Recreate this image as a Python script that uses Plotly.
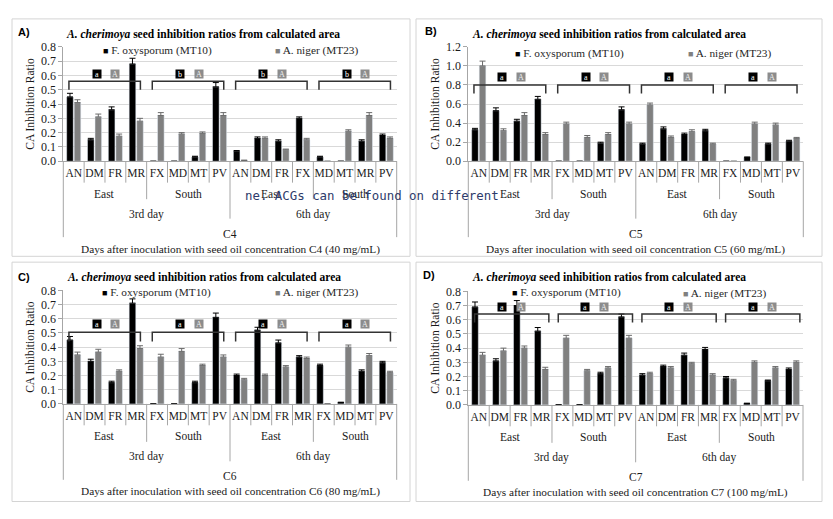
import plotly.graph_objects as go

W, H = 833, 519

# ---------------- data ----------------
iso_A = ["AN", "DM", "FR", "MR", "FX", "MD", "MT", "PV",
         "AN", "DM", "FR", "FX", "MD", "MT", "MR", "PV"]
iso_std = ["AN", "DM", "FR", "MR", "FX", "MD", "MT", "PV",
           "AN", "DM", "FR", "MR", "FX", "MD", "MT", "PV"]
region_labels = ["East", "South", "East", "South"]
day_labels = ["3rd day", "6th day"]
conc_labels = ["C4", "C5", "C6", "C7"]
conc_values = ["40 mg/mL", "60 mg/mL", "80 mg/mL", "100 mg/mL"]
series_names = ["F. oxysporum (MT10)", "A. niger (MT23)"]

A_fox = [0.45, 0.15, 0.36, 0.68, 0, 0, 0.03, 0.52, 0.07, 0.16, 0.14, 0.30, 0.03, 0, 0.14, 0.18]
A_ani = [0.41, 0.31, 0.175, 0.28, 0.32, 0.19, 0.195, 0.32, 0.005, 0.16, 0.08, 0.15, 0, 0.21, 0.32, 0.16]
B_fox = [0.33, 0.53, 0.42, 0.65, 0, 0, 0.19, 0.54, 0.18, 0.34, 0.28, 0.32, 0, 0.04, 0.18, 0.21]
B_ani = [1.00, 0.32, 0.48, 0.28, 0.39, 0.25, 0.28, 0.39, 0.59, 0.25, 0.31, 0.18, 0, 0.39, 0.38, 0.24]
C_fox = [0.45, 0.30, 0.15, 0.71, 0, 0, 0.15, 0.61, 0.20, 0.52, 0.43, 0.33, 0.27, 0.01, 0.23, 0.29]
C_ani = [0.345, 0.365, 0.23, 0.39, 0.33, 0.37, 0.27, 0.33, 0.17, 0.20, 0.26, 0.32, 0, 0.40, 0.34, 0.22]
D_fox = [0.69, 0.31, 0.70, 0.52, 0, 0, 0.22, 0.62, 0.21, 0.27, 0.35, 0.39, 0.19, 0.01, 0.17, 0.25]
D_ani = [0.35, 0.38, 0.40, 0.25, 0.47, 0.24, 0.26, 0.47, 0.22, 0.26, 0.29, 0.21, 0.17, 0.30, 0.26, 0.30]

A_fox_err = [0.025, 0.01, 0.02, 0.04, 0, 0, 0.005, 0.03, 0.005, 0.01, 0.01, 0.01, 0.005, 0, 0.01, 0.01]
A_ani_err = [0.02, 0.02, 0.015, 0.02, 0.02, 0.01, 0.01, 0.02, 0.003, 0.01, 0.005, 0.01, 0, 0.01, 0.02, 0.01]
B_fox_err = [0.015, 0.03, 0.02, 0.03, 0, 0, 0.01, 0.03, 0.01, 0.02, 0.015, 0.015, 0, 0.005, 0.01, 0.01]
B_ani_err = [0.05, 0.02, 0.03, 0.02, 0.02, 0.02, 0.02, 0.02, 0.02, 0.015, 0.02, 0.01, 0, 0.02, 0.02, 0.01]
C_fox_err = [0.025, 0.015, 0.01, 0.03, 0, 0, 0.01, 0.03, 0.01, 0.02, 0.02, 0.01, 0.01, 0.002, 0.01, 0.01]
C_ani_err = [0.02, 0.02, 0.01, 0.02, 0.02, 0.02, 0.01, 0.015, 0.01, 0.01, 0.01, 0.01, 0, 0.015, 0.015, 0.01]
D_fox_err = [0.035, 0.015, 0.035, 0.025, 0, 0, 0.01, 0.02, 0.01, 0.01, 0.015, 0.015, 0.01, 0.002, 0.005, 0.01]
D_ani_err = [0.02, 0.02, 0.015, 0.015, 0.02, 0.01, 0.01, 0.02, 0.01, 0.01, 0.01, 0.01, 0.01, 0.01, 0.01, 0.01]

A_letters = [("a", "A"), ("b", "A"), ("b", "A"), ("b", "A")]
B_letters = [("a", "A"), ("a", "A"), ("a", "A"), ("a", "A")]
C_letters = [("a", "A"), ("a", "A"), ("a", "A"), ("a", "A")]
D_letters = [("a", "A"), ("a", "A"), ("a", "A"), ("a", "A")]

# bracket levels: (top, tick end, letter level)
A_bracket = (0.56, 0.50, 0.61)
B_bracket = (0.80, 0.71, 0.885)
C_bracket = (0.505, 0.44, 0.56)
D_bracket = (0.64, 0.58, 0.69)

stray_text = "ne. ACGs can be found on different"

# ---------------- layout config (pixels in the reference picture) ----------------
panels = [
    dict(tag="A)", iso=iso_A, fox=A_fox, ani=A_ani, fe=A_fox_err, ae=A_ani_err, letters=A_letters,
         br=A_bracket, ymax=0.8, dtick=0.1, x0=63.3, x1=396.7, yt=40.7, yb=158.3,
         box=(12, 12, 410, 256), tagpos=(16, 25), title=(203, 28.3),
         leg1=(101, 44), leg2=(273, 44.5), bx=(-0.23, 3.2)),
    dict(tag="B)", iso=iso_std, fox=B_fox, ani=B_ani, fe=B_fox_err, ae=B_ani_err, letters=B_letters,
         br=B_bracket, ymax=1.2, dtick=0.2, x0=468.3, x1=803.3, yt=40.7, yb=158.3,
         box=(416, 12, 822, 256), tagpos=(423, 24), title=(609, 28.3),
         leg1=(513, 48), leg2=(686, 48), bx=(-0.23, 3.2)),
    dict(tag="C)", iso=iso_std, fox=C_fox, ani=C_ani, fe=C_fox_err, ae=C_ani_err, letters=C_letters,
         br=C_bracket, ymax=0.8, dtick=0.1, x0=63.3, x1=396.7, yt=291, yb=407.7,
         box=(12, 262, 410, 508), tagpos=(16, 277), title=(204, 277.7),
         leg1=(100, 293.7), leg2=(273, 293.7), bx=(-0.23, 3.2)),
    dict(tag="D)", iso=iso_std, fox=D_fox, ani=D_ani, fe=D_fox_err, ae=D_ani_err, letters=D_letters,
         br=D_bracket, ymax=0.8, dtick=0.1, x0=468.3, x1=803.0, yt=292, yb=408.7,
         box=(416, 262, 822, 508), tagpos=(421, 275), title=(609, 277.7),
         leg1=(510, 293.7), leg2=(681, 294), bx=(-0.2, 3.35)),
]

SERIF = "Liberation Serif"
TXT = "#1a1a1a"
LINE = "#a6a6a6"
BLACK = "#000000"
GRAY = "#808080"
PAGE_OFF = 8  # default page margin around the plot div


def px(x):
    return (x - PAGE_OFF) / W


def py(y):
    return 1 - (y - PAGE_OFF) / H


fig = go.Figure()
annotations = []
shapes = []
layout_axes = {}

for i, p in enumerate(panels):
    n = i + 1
    xa = "x" if n == 1 else f"x{n}"
    ya = "y" if n == 1 else f"y{n}"
    xkey = "xaxis" if n == 1 else f"xaxis{n}"
    ykey = "yaxis" if n == 1 else f"yaxis{n}"
    xs = list(range(len(p["iso"])))

    fig.add_trace(go.Bar(
        x=xs, y=p["fox"], name=series_names[0], marker_color=BLACK, xaxis=xa, yaxis=ya,
        error_y=dict(type="data", symmetric=False,
                     array=[e if e > 0 else None for e in p["fe"]],
                     arrayminus=[0] * len(xs), color="#000000", thickness=1, width=3),
        showlegend=False))
    fig.add_trace(go.Bar(
        x=xs, y=p["ani"], name=series_names[1], marker_color=GRAY, xaxis=xa, yaxis=ya,
        error_y=dict(type="data", symmetric=False,
                     array=[e if e > 0 else None for e in p["ae"]],
                     arrayminus=[0] * len(xs), color="#6a6a6a", thickness=1, width=3),
        showlegend=False))

    hpx = p["yb"] - p["yt"]
    layout_axes[xkey] = dict(
        domain=[px(p["x0"]), px(p["x1"])], anchor=ya, range=[-0.5, len(xs) - 0.5],
        tickvals=xs, ticktext=p["iso"], ticks="", showline=True, linecolor=LINE,
        showgrid=False, zeroline=False, tickfont=dict(family=SERIF, size=11.5, color=TXT),
        ticklabelstandoff=1, fixedrange=True)
    layout_axes[ykey] = dict(
        domain=[py(p["yb"]), py(p["yt"])], anchor=xa, range=[0, p["ymax"]],
        dtick=p["dtick"], tickformat=".1f", showline=True, linecolor=LINE,
        ticks="outside", ticklen=4, tickcolor=LINE, showgrid=True, gridcolor="#d9d9d9",
        zeroline=False, tickfont=dict(family=SERIF, size=12, color=TXT), fixedrange=True,
        title=dict(text="CA Inhibition Ratio", font=dict(family=SERIF, size=11.5, color=TXT),
                   standoff=3))

    # panel border
    bx0, by0, bx1, by1 = p["box"]
    shapes.append(dict(type="rect", xref="paper", yref="paper", x0=px(bx0), x1=px(bx1),
                       y0=py(by1), y1=py(by0), line=dict(color="#d4d4d4", width=1)))

    # panel tag and title
    annotations.append(dict(xref="paper", yref="paper", x=px(p["tagpos"][0]), y=py(p["tagpos"][1]),
                            xanchor="left", yanchor="middle", showarrow=False,
                            text=f"<b>{p['tag']}</b>",
                            font=dict(family="Liberation Sans", size=11, color="#000")))
    annotations.append(dict(xref="paper", yref="paper", x=px(p["title"][0]), y=py(p["title"][1]),
                            xanchor="center", yanchor="middle", showarrow=False,
                            text="<b><i>A. cherimoya</i> seed inhibition ratios from calculated area</b>",
                            font=dict(family=SERIF, size=11.5, color="#000")))
    # legend entries
    for (lx, ly), nm, col in [(p["leg1"], series_names[0], BLACK), (p["leg2"], series_names[1], GRAY)]:
        annotations.append(dict(xref="paper", yref="paper", x=px(lx), y=py(ly),
                                xanchor="left", yanchor="middle", showarrow=False,
                                text=f'<span style="color:{col};font-size:9px">■</span> {nm}',
                                font=dict(family=SERIF, size=11.3, color="#262626")))

    # brackets + letters
    top, low, lev = p["br"]
    for g in range(4):
        xa0 = 4 * g + p["bx"][0]
        xa1 = 4 * g + p["bx"][1]
        shapes.append(dict(type="path", xref=xa, yref=ya,
                           path=f"M {xa0},{low} L {xa0},{top} L {xa1},{top} L {xa1},{low}",
                           line=dict(color="#333333", width=1.5)))
        l1, l2 = p["letters"][g]
        annotations.append(dict(xref=xa, yref=ya, x=4 * g + 1.1, y=lev, text=l1, showarrow=False,
                                bgcolor="#000000", width=8, height=8, borderpad=0,
                                font=dict(family=SERIF, size=8, color="#ffffff")))
        annotations.append(dict(xref=xa, yref=ya, x=4 * g + 2.0, y=lev, text=l2, showarrow=False,
                                bgcolor="#8c8c8c", width=8, height=8, borderpad=0,
                                font=dict(family=SERIF, size=8, color="#eeeeee")))

    # hierarchical category dividers
    def frac(d):
        return -d / hpx

    for k in range(len(xs) - 1):
        b = k + 0.5
        if b == 7.5:
            depth = 59
        elif b in (3.5, 11.5):
            depth = 39
        else:
            depth = 22
        shapes.append(dict(type="line", xref=xa, yref=f"{ya} domain", x0=b, x1=b, y0=0, y1=frac(depth),
                           line=dict(color=LINE, width=1)))
    for xd in (0, 1):
        shapes.append(dict(type="line", xref=f"{xa} domain", yref=f"{ya} domain", x0=xd, x1=xd,
                           y0=0, y1=frac(78), line=dict(color=LINE, width=1)))

    # region, day, concentration labels
    for g, reg in enumerate(region_labels):
        annotations.append(dict(xref=xa, yref=f"{ya} domain", x=4 * g + 1.5, y=0, yshift=-32.5,
                                text=reg, showarrow=False, yanchor="middle",
                                font=dict(family=SERIF, size=11.5, color=TXT)))
    for d, dl in enumerate(day_labels):
        annotations.append(dict(xref=xa, yref=f"{ya} domain", x=8 * d + 3.5, y=0, yshift=-53,
                                text=dl, showarrow=False, yanchor="middle",
                                font=dict(family=SERIF, size=11.5, color=TXT)))
    annotations.append(dict(xref=xa, yref=f"{ya} domain", x=7.5, y=0, yshift=-72.5,
                            text=conc_labels[i], showarrow=False, yanchor="middle",
                            font=dict(family=SERIF, size=11.5, color=TXT)))
    annotations.append(dict(xref=xa, yref=f"{ya} domain", x=7.5, y=0, yshift=-88,
                            text=f"Days after inoculation with seed oil concentration {conc_labels[i]} ({conc_values[i]})",
                            showarrow=False, yanchor="middle",
                            font=dict(family=SERIF, size=11.3, color=TXT)))

# stray overlay text present in the reference image
annotations.append(dict(xref="paper", yref="paper", x=px(243), y=py(194), xanchor="left",
                        yanchor="middle", showarrow=False, text=stray_text,
                        font=dict(family="DejaVu Sans Mono", size=12.4, color="#2e3b6b")))

fig.update_layout(
    width=W, height=H, margin=dict(l=0, r=0, t=0, b=0),
    paper_bgcolor="white", plot_bgcolor="white",
    barmode="group", bargap=0.28, bargroupgap=0.12,
    showlegend=False, annotations=annotations, shapes=shapes,
    **layout_axes)

fig.write_html("out.html")
